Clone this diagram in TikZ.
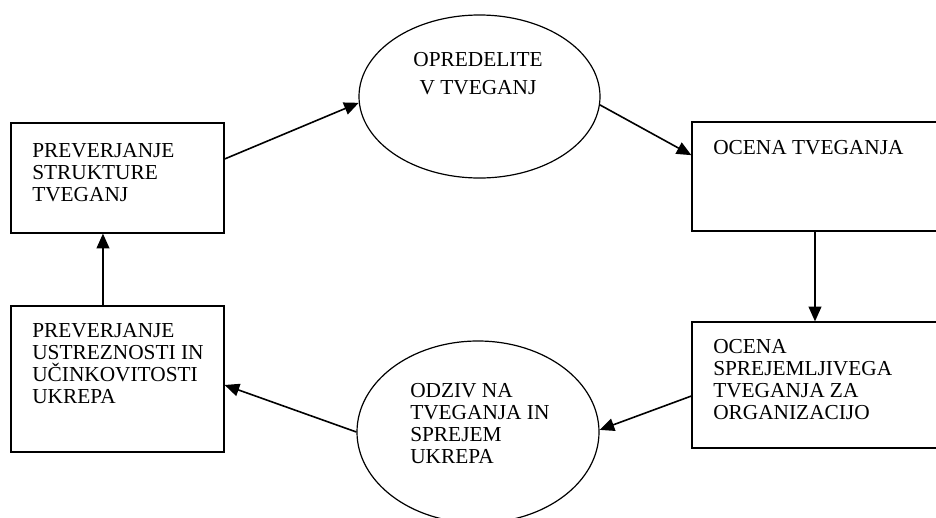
\documentclass[tikz,border=0pt]{standalone}
\usepackage{fontspec}
\setmainfont{Liberation Serif}
\usetikzlibrary{arrows.meta,positioning,shapes.geometric}
\tikzset{
  blk/.style={draw,rectangle,line width=0.9pt,inner sep=0pt},
  ellblk/.style={draw,ellipse,line width=0.9pt,inner sep=0pt},
  txt/.style={font={\fontsize{16}{16.5}\selectfont},align=left,inner sep=0pt,anchor=north west},
  arr/.style={-{Triangle[length=11pt,width=9.5pt]},line width=1.2pt}
}
\begin{document}
\begin{tikzpicture}[x=0.75pt, y=-0.75pt]
  \useasboundingbox (0,0) rectangle (936,518);
  % Boxes
  \node[blk, minimum width=159.75pt, minimum height=82.5pt] (b1) at (117.5,178) {};
  \node[blk, minimum width=159.75pt, minimum height=109.5pt] (b2) at (117.5,379) {};
  \node[blk, minimum width=184.5pt, minimum height=81.75pt] (b3) at (815,176.5) {};
  \node[blk, minimum width=184.5pt, minimum height=94.5pt] (b4) at (815,385) {};

  % Ellipses
  \node[ellblk, minimum width=180.75pt, minimum height=122.25pt] (e1) at (479.5,96.5) {};
  \node[ellblk, minimum width=181.5pt, minimum height=136.5pt] (e2) at (478,432) {};

  % Texts
  \node[txt] (t1) at (32,143) {PREVERJANJE\\STRUKTURE\\TVEGANJ};
  \node[txt] (t2) at (32,323) {PREVERJANJE\\USTREZNOSTI IN\\UČINKOVITOSTI\\UKREPA};
  \node[txt] (t3) at (713,140) {OCENA TVEGANJA};
  \node[txt] (t4) at (713,339) {OCENA\\SPREJEMLJIVEGA\\TVEGANJA ZA\\ORGANIZACIJO};
  \node[txt, anchor=north, align=center, font={\fontsize{16}{21}\selectfont}] (t5) at (478,52) {OPREDELITE\\V TVEGANJ};
  \node[txt] (t6) at (410,383) {ODZIV NA\\TVEGANJA IN\\SPREJEM\\UKREPA};

  % Cycle
  \draw[arr] ([yshift=14.25pt]b1.east) -- (e1.183);
  \draw[arr] (e1.-4) -- ([yshift=16pt]b3.west);
  \draw[arr] (b3.south) -- (b4.north);
  \draw[arr] ([yshift=-8.25pt]b4.west) -- (e2.1);
  \draw[arr] (e2.west) -- ([yshift=-4.5pt]b2.east);
  \draw[arr] ([xshift=-10.9pt]b2.north) -- ([xshift=-10.9pt]b1.south);
\end{tikzpicture}
\end{document}
